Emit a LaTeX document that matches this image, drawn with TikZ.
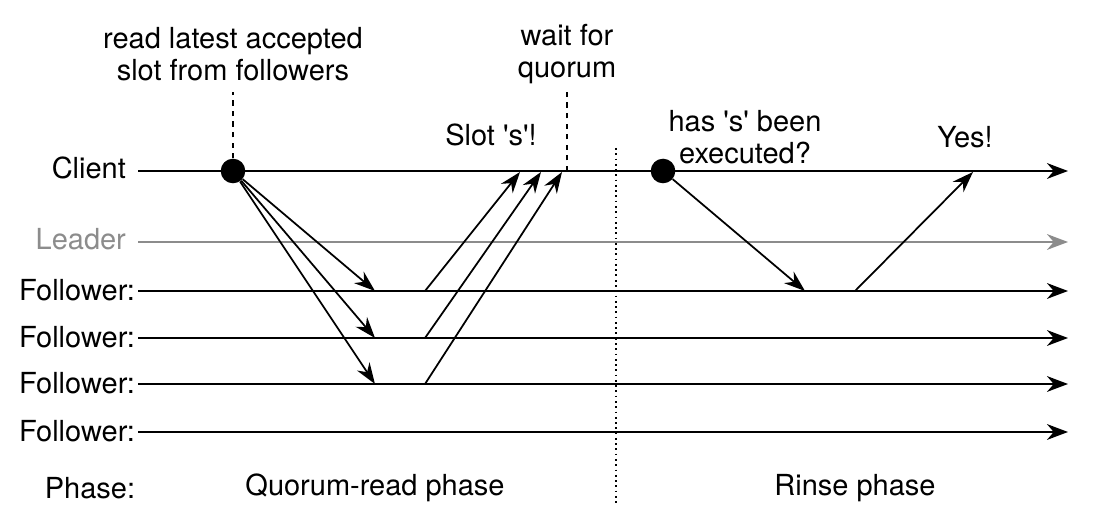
\documentclass[tikz,border=0pt]{standalone}
\usepackage{fontspec}
\setmainfont{TeX Gyre Heros}
\usepackage{tikz}
\usetikzlibrary{arrows.meta}

\begin{document}
\begin{tikzpicture}[x=0.02cm, y=-0.02cm]
    \tikzstyle{lane} = [draw,line width=1.1pt,-{Stealth[length=12pt,width=9pt]}]
    \tikzstyle{msg} = [draw,line width=1pt,-{Stealth[length=12pt,width=8.5pt]}]
    \tikzstyle{label} = [font=\fontsize{16.5}{18.5}\selectfont,inner sep=1pt]
    \tikzstyle{event} = [circle,fill=black,minimum size=14pt,inner sep=0pt]
    \tikzstyle{note} = [label,align=center]

    \useasboundingbox (0,0) rectangle (1119,523);

    % lanes
    \node[label,anchor=east] (client) at (128,168) {Client};
    \node[label,anchor=east,text=black!45] (leader) at (128,239) {Leader};
    \node[label,anchor=east] (f1) at (137,290) {Follower:};
    \node[label,anchor=east] (f2) at (137,337) {Follower:};
    \node[label,anchor=east] (f3) at (137,383) {Follower:};
    \node[label,anchor=east] (f4) at (137,431) {Follower:};
    \node[label] (phase) at (90,488) {Phase:};

    \coordinate (ce) at (1068,171);
    \coordinate (le) at (1068,242);
    \coordinate (f1e) at (1068,291);
    \coordinate (f2e) at (1068,338);
    \coordinate (f3e) at (1068,384);
    \coordinate (f4e) at (1068,432);

    \path[lane] (138,171) -- (ce);
    \path[lane,draw=black!45,color=black!45] (138,242) -- (le);
    \path[lane] (138,291) -- (f1e);
    \path[lane] (138,338) -- (f2e);
    \path[lane] (138,384) -- (f3e);
    \path[lane] (138,432) -- (f4e);

    % quorum-read phase
    \node[event] (read) at (233,171) {};
    \node[note] (readtxt) at (233,54) {read latest accepted\\slot from followers};
    \path[draw,dashed,line width=1pt] (read.north) -- (233,92);

    \coordinate (r1) at (375,291);
    \coordinate (r2) at (375,338);
    \coordinate (r3) at (375,384);
    \coordinate (s1) at (425,291);
    \coordinate (s2) at (425,338);
    \coordinate (s3) at (425,384);
    \coordinate (a1) at (520,172);
    \coordinate (a2) at (541,172);
    \coordinate (a3) at (562,172);

    \path[msg] (read) -- (r1);
    \path[msg] (read) -- (r2);
    \path[msg] (read) -- (r3);
    \path[msg] (s1) -- (a1);
    \path[msg] (s2) -- (a2);
    \path[msg] (s3) -- (a3);

    \coordinate (quorum) at (567,171);
    \node[note] (waittxt) at (567,54) {wait for\\quorum};
    \path[draw,dashed,line width=1pt] (quorum) -- (567,92);
    \node[label] (slottxt) at (491,135) {Slot \textquotesingle s\textquotesingle !};

    % phase border
    \path[draw,dotted,line width=1pt] (616,148) -- (616,506);

    % rinse phase
    \node[event] (rinse) at (663,171) {};
    \node[note] (hastxt) at (745,137) {has \textquotesingle s\textquotesingle{} been\\executed?};
    \coordinate (q1) at (805,291);
    \coordinate (y1) at (855,291);
    \coordinate (y2) at (973,172);
    \path[msg] (rinse) -- (q1);
    \path[msg] (y1) -- (y2);
    \node[label] (yestxt) at (965,137) {Yes!};

    \node[label] (quorumphase) at (375,488) {Quorum-read phase};
    \node[label] (rinsephase) at (855,488) {Rinse phase};
\end{tikzpicture}
\end{document}
